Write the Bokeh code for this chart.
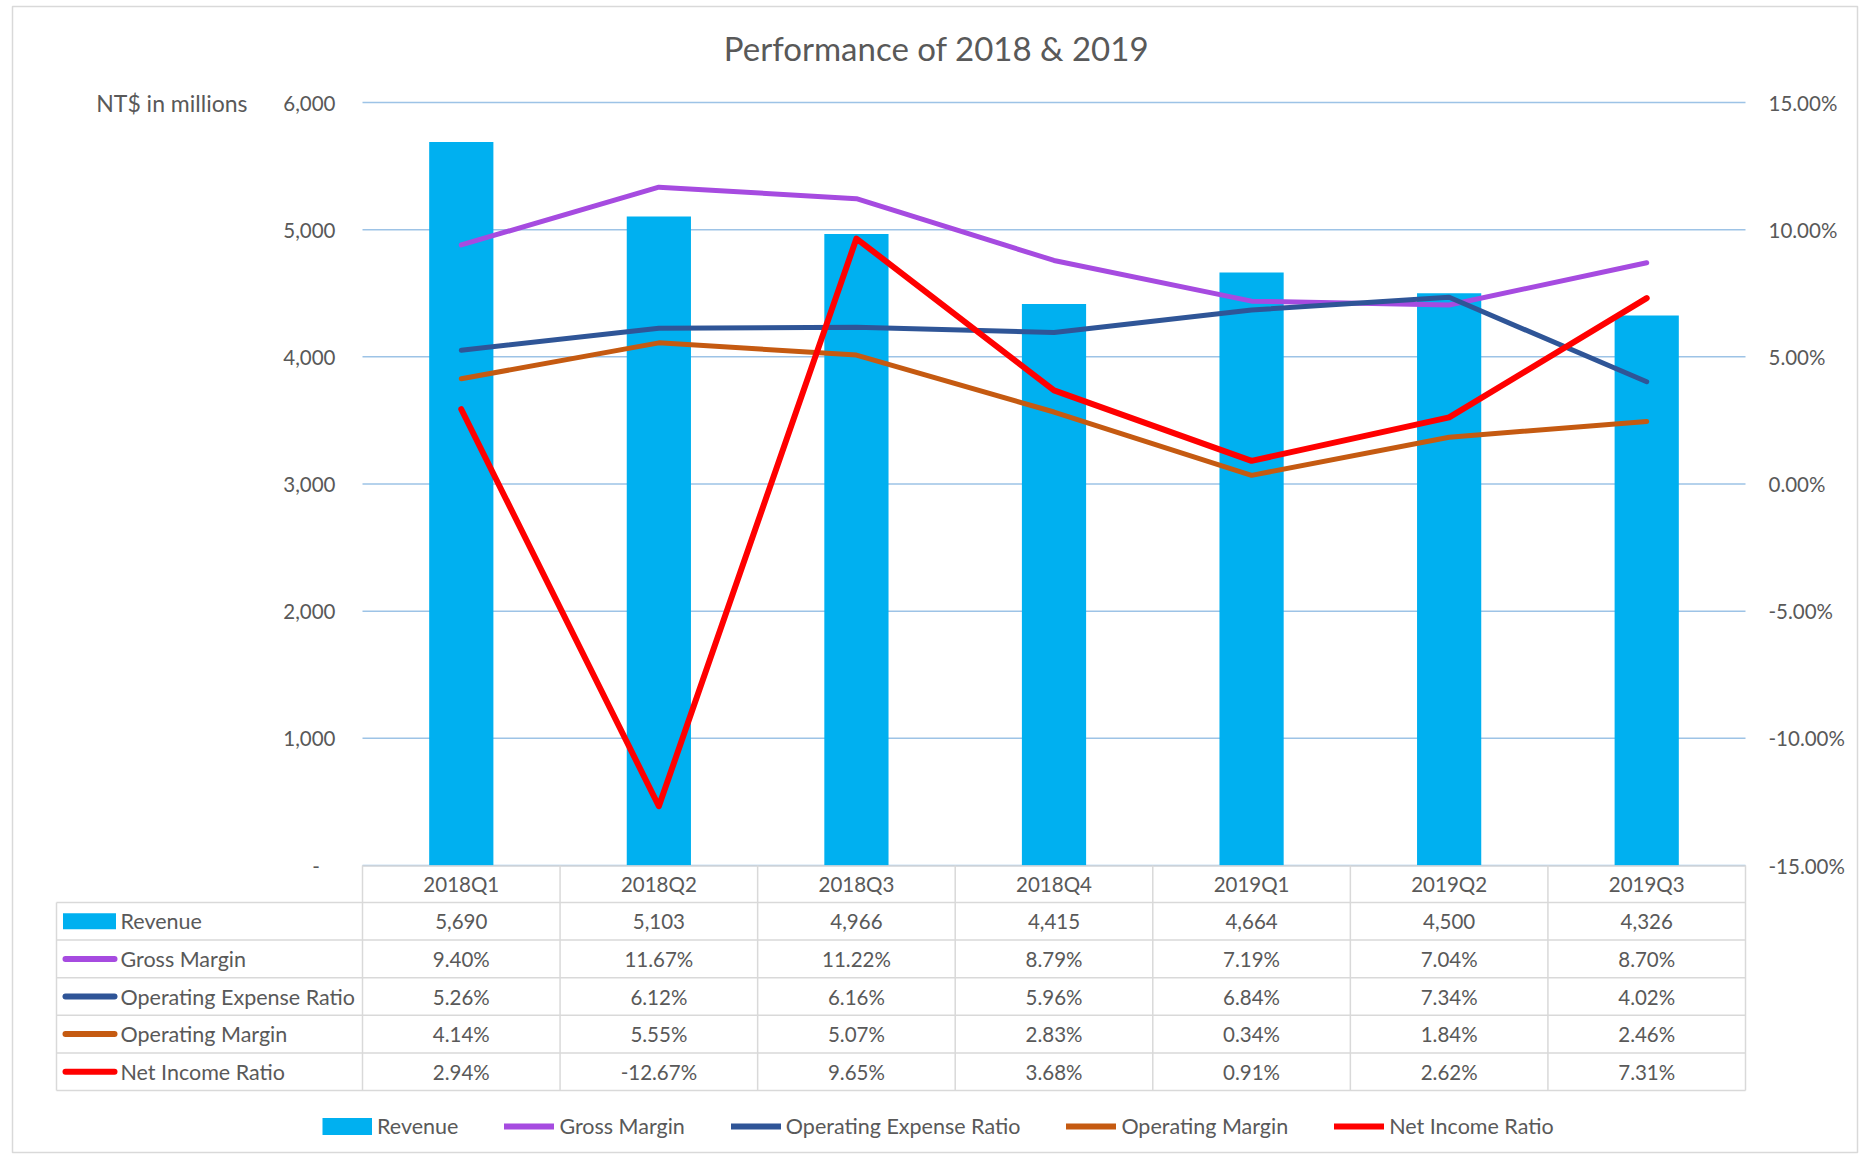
import numpy as np
from bokeh.plotting import figure
from bokeh.models import (Range1d, LinearAxis, FixedTicker, PrintfTickFormatter,
                          NumeralTickFormatter, Legend, LegendItem)
from bokeh.core.properties import value
from bokeh.embed import file_html
from bokeh.resources import INLINE

# ---------------- data ----------------
title_text = "Performance of 2018 & 2019"
left_axis_title = "NT$ in millions"
categories = ["2018Q1", "2018Q2", "2018Q3", "2018Q4", "2019Q1", "2019Q2", "2019Q3"]
revenue = [5690, 5103, 4966, 4415, 4664, 4500, 4326]
gross_margin = [9.40, 11.67, 11.22, 8.79, 7.19, 7.04, 8.70]
opex_ratio = [5.26, 6.12, 6.16, 5.96, 6.84, 7.34, 4.02]
op_margin = [4.14, 5.55, 5.07, 2.83, 0.34, 1.84, 2.46]
net_income_ratio = [2.94, -12.67, 9.65, 3.68, 0.91, 2.62, 7.31]
series_names = ["Revenue", "Gross Margin", "Operating Expense Ratio",
                "Operating Margin", "Net Income Ratio"]
revenue_ticks = [0, 1000, 2000, 3000, 4000, 5000, 6000]
pct_ticks = [-15, -10, -5, 0, 5, 10, 15]

# ---------------- style / layout ----------------
FONT = "Lato"
TXT = "#595959"
FS_NUM = "20.5px"
FS_LBL = "21.5px"
C_BAR = "#00B0F0"
C_GM = "#A64BE0"
C_OPEX = "#2F5597"
C_OPM = "#C55A11"
C_NET = "#FF0000"
C_GRID = "#9DC3E6"
C_TAB = "#D9D9D9"

W, H = 1861, 1157
PL, PR, PT, PB = 362, 1745, 102, 865      # plot area in canvas px
n = len(categories)
colw = (PR - PL) / n
rev_min, rev_max = revenue_ticks[0], revenue_ticks[-1]
pct_min, pct_max = pct_ticks[0], pct_ticks[-1]
ypp = (rev_max - rev_min) / (PB - PT)
y_lo = rev_min - (H - PB) * ypp
y_hi = rev_max + PT * ypp


def rev_to_pct(v):
    return pct_min + (v - rev_min) * (pct_max - pct_min) / (rev_max - rev_min)


p = figure(width=W, height=H,
           x_range=Range1d(-PL / colw, n + (W - PR) / colw),
           y_range=Range1d(y_lo, y_hi),
           x_axis_type=None, y_axis_type=None,
           toolbar_location=None, output_backend="svg",
           min_border=0, outline_line_color=None,
           background_fill_color="white", border_fill_color="white")
p.extra_y_ranges = {"pct": Range1d(rev_to_pct(y_lo), rev_to_pct(y_hi)),
                    "px": Range1d(H, 0)}
p.extra_x_ranges = {"px": Range1d(0, W)}

xc = [i + 0.5 for i in range(n)]

# outer border
p.quad(left=[12], right=[1857], top=[6], bottom=[1152], fill_color=None,
       line_color=C_TAB, line_width=1.5, x_range_name="px", y_range_name="px")

# gridlines
p.segment(x0=0, x1=n, y0=revenue_ticks, y1=revenue_ticks,
          line_color=C_GRID, line_width=1.5)

# bars and lines
bars = p.vbar(x=xc, top=revenue, bottom=0, width=0.325,
              fill_color=C_BAR, line_color=None)
line_kw = dict(y_range_name="pct", line_cap="round", line_join="round")
r_gm = p.line(xc, gross_margin, line_color=C_GM, line_width=5, **line_kw)
r_opex = p.line(xc, opex_ratio, line_color=C_OPEX, line_width=5, **line_kw)
r_opm = p.line(xc, op_margin, line_color=C_OPM, line_width=5, **line_kw)
r_net = p.line(xc, net_income_ratio, line_color=C_NET, line_width=6, **line_kw)

# axes
ax_kw = dict(axis_line_color=None, major_tick_line_color=None,
             minor_tick_line_color=None, major_tick_in=0, major_tick_out=0,
             major_label_text_font=FONT, major_label_text_font_size=FS_NUM,
             major_label_text_color=TXT)
lax = LinearAxis(fixed_location=0, ticker=FixedTicker(ticks=revenue_ticks),
                 formatter=NumeralTickFormatter(format="0,0"),
                 major_label_overrides={0: "-\u00a0\u00a0\u00a0"},
                 major_label_standoff=27, **ax_kw)
p.add_layout(lax, "left")
rax = LinearAxis(y_range_name="pct", fixed_location=n,
                 ticker=FixedTicker(ticks=pct_ticks),
                 formatter=PrintfTickFormatter(format="%.2f%%"),
                 major_label_standoff=23, **ax_kw)
p.add_layout(rax, "right")

num_kw = dict(text_font=value(FONT), text_font_size=value(FS_NUM), text_color=TXT)
lbl_kw = dict(text_font=value(FONT), text_font_size=value(FS_LBL), text_color=TXT)

# axis title and chart title
p.text(x=[247], y=[rev_max], text=[left_axis_title], x_range_name="px",
       text_align="right", text_baseline="middle", text_font=value(FONT),
       text_font_size=value("23px"), text_color=TXT)
p.text(x=[936], y=[47], text=[title_text], x_range_name="px", y_range_name="px",
       text_align="center", text_baseline="middle", text_font=value(FONT),
       text_font_size=value("33px"), text_color=TXT)

# ---------------- data table ----------------
TL = 56
HB = 902
RH = 37.6
nrows = len(series_names)
TB = HB + RH * nrows
row_y = [HB + RH * (i + 0.5) for i in range(nrows)]
hdr_y = (PB + HB) / 2

tab_line = dict(line_color=C_TAB, line_width=1.5)
p.segment(x0=[PL], x1=[PR], y0=[PB + 0.5], y1=[PB + 0.5],
          x_range_name="px", y_range_name="px", **tab_line)
hy = [HB + RH * k for k in range(nrows + 1)]
p.segment(x0=TL, x1=PR, y0=hy, y1=hy, x_range_name="px", y_range_name="px", **tab_line)
p.segment(x0=list(range(n + 1)), x1=list(range(n + 1)), y0=PB, y1=TB,
          y_range_name="px", **tab_line)
p.segment(x0=[TL], x1=[TL], y0=[HB], y1=[TB], x_range_name="px",
          y_range_name="px", **tab_line)

# header
p.text(x=xc, y=[hdr_y] * n, text=categories, y_range_name="px",
       text_align="center", text_baseline="middle", **num_kw)

# cell values
rows_txt = [[f"{v:,}" for v in revenue],
            [f"{v:.2f}%" for v in gross_margin],
            [f"{v:.2f}%" for v in opex_ratio],
            [f"{v:.2f}%" for v in op_margin],
            [f"{v:.2f}%" for v in net_income_ratio]]
for i, row in enumerate(rows_txt):
    p.text(x=xc, y=[row_y[i]] * n, text=row, y_range_name="px",
           text_align="center", text_baseline="middle", **num_kw)

# row labels and swatches
p.text(x=[120] * nrows, y=row_y, text=series_names, x_range_name="px",
       y_range_name="px", text_align="left", text_baseline="middle", **lbl_kw)
p.rect(x=[89], y=[row_y[0]], width=[53], height=[16], fill_color=C_BAR,
       line_color=None, x_range_name="px", y_range_name="px")
p.segment(x0=65, x1=114, y0=row_y[1:], y1=row_y[1:],
          line_color=[C_GM, C_OPEX, C_OPM, C_NET], line_width=6,
          line_cap="round", x_range_name="px", y_range_name="px")

# ---------------- legend ----------------
# legend swatches (renderers with an undrawable point, only used for the legend glyphs)
NAN = float("nan")
lg_bar = p.segment(x0=[NAN], x1=[NAN], y0=[NAN], y1=[NAN], line_color=C_BAR,
                   line_width=17, line_cap="butt")
lg_lines = [p.segment(x0=[NAN], x1=[NAN], y0=[NAN], y1=[NAN], line_color=c,
                      line_width=6, line_cap="round")
            for c in [C_GM, C_OPEX, C_OPM, C_NET]]
legend = Legend(items=[LegendItem(label=nm, renderers=[r])
                       for nm, r in zip(series_names, [lg_bar] + lg_lines)],
                orientation="horizontal", location=(322, 18),
                glyph_width=50, glyph_height=18, label_standoff=5, spacing=46,
                padding=0, margin=0, border_line_color=None,
                background_fill_alpha=0, label_text_font=FONT,
                label_text_font_size=FS_LBL, label_text_color=TXT)
p.add_layout(legend)

open("out.html", "w").write(file_html(p, INLINE))
